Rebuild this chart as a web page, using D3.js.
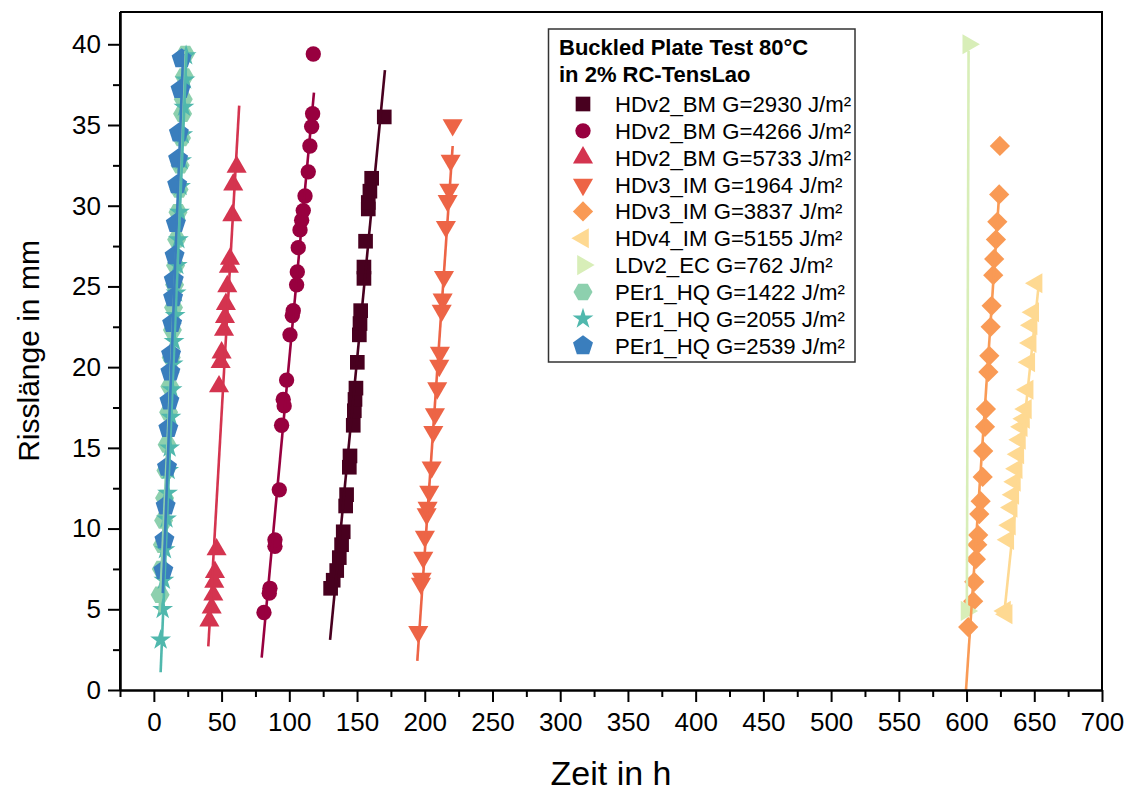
<!DOCTYPE html>
<html>
<head>
<meta charset="utf-8">
<script src="https://cdn.jsdelivr.net/npm/d3@7"></script>
<style>
body{margin:0;background:#fff}
svg text{font-family:Arial,"Liberation Sans",sans-serif;fill:#000}
</style>
</head>
<body>
<svg id="chart" width="1135" height="792"></svg>
<script>
// crack length (mm) over time (h), one [t, a] pair per measurement
const hdv2bm2930=[[130.5,6.3],[132.4,6.8],[135.0,7.4],[136.9,8.2],[138.6,9.0],[139.8,9.8],[141.6,11.4],[142.3,12.1],[144.3,13.8],[144.8,14.5],[147.2,16.4],[148.0,17.3],[148.5,18.0],[149.2,18.7],[150.2,20.3],[151.7,22.0],[152.2,22.7],[152.7,23.5],[155.1,25.5],[155.1,26.2],[156.3,27.8],[158.3,29.8],[158.3,30.2],[159.5,30.9],[160.8,31.7],[170.1,35.5]];
const hdv2bm4266=[[81.3,4.8],[85.2,6.0],[85.7,6.3],[89.4,8.9],[89.4,9.3],[92.6,12.4],[94.3,16.4],[95.5,18.0],[96.2,17.6],[98.0,19.2],[100.5,22.0],[102.2,23.2],[102.9,23.5],[105.4,25.1],[105.9,25.9],[106.6,27.4],[107.9,28.5],[109.1,29.1],[110.3,29.7],[111.6,30.6],[114.0,32.1],[115.2,33.7],[116.5,34.9],[117.2,35.7],[117.7,39.4]];
const hdv2bm5733=[[41.0,4.3],[42.7,5.1],[43.9,5.9],[44.6,6.7],[45.1,7.3],[46.3,8.7],[48.1,18.8],[49.3,20.3],[50.0,20.9],[51.8,22.3],[52.5,23.1],[53.2,23.9],[54.2,25.0],[55.4,26.2],[56.2,26.7],[57.9,29.4],[58.6,31.3],[61.1,32.4]];
const hdv3im1964=[[195.2,3.6],[197.2,6.6],[197.7,6.9],[198.9,8.2],[200.1,9.5],[201.4,10.9],[202.1,11.3],[203.3,12.3],[205.1,13.8],[206.3,16.0],[207.5,17.1],[209.2,18.7],[210.7,20.1],[211.2,20.9],[212.5,23.5],[213.2,24.2],[214.2,25.6],[215.6,28.7],[216.9,30.3],[218.1,31.0],[219.1,32.8],[220.6,35.0]];
const hdv3im3837=[[601.2,3.9],[604.9,5.5],[605.7,6.7],[606.9,8.1],[607.9,9.0],[608.6,9.6],[609.4,10.9],[610.4,11.7],[611.9,13.2],[612.3,14.8],[613.6,16.3],[614.3,17.4],[616.1,19.7],[616.8,20.7],[617.8,22.5],[618.5,23.8],[619.7,25.7],[620.4,26.7],[621.7,27.9],[622.7,29.0],[624.1,30.7],[624.6,33.7]];
const hdv4im5155=[[628.4,4.9],[629.6,4.7],[630.8,9.3],[632.0,10.2],[633.3,11.3],[634.5,12.1],[635.7,12.9],[637.0,13.7],[638.2,14.6],[639.4,15.5],[640.7,16.3],[642.4,16.8],[643.8,17.4],[645.1,18.6],[646.3,20.3],[647.3,21.5],[648.0,22.6],[649.2,23.4],[651.7,25.2]];
const ldv2ec762=[[600.0,4.9],[601.3,40.0]];
const per1hq1422=[[4.6,5.9],[5.5,7.5],[6.3,9.0],[7.2,10.5],[7.9,11.9],[8.9,13.6],[9.8,15.2],[10.9,17.2],[11.8,18.8],[12.8,20.6],[13.7,22.3],[14.5,23.7],[15.3,25.1],[16.0,26.3],[16.8,27.9],[17.8,29.6],[18.6,31.0],[19.4,32.5],[20.4,34.2],[21.2,35.7],[21.7,36.6],[22.5,38.0],[23.3,39.4]];
const per1hq2055=[[5.0,3.1],[6.5,5.0],[7.4,6.8],[8.2,8.7],[9.3,10.6],[10.1,12.2],[10.9,13.6],[11.6,15.0],[12.6,16.9],[13.4,18.6],[14.2,20.2],[14.9,21.6],[15.7,23.2],[16.4,24.6],[17.3,26.3],[18.1,27.9],[18.9,29.6],[19.7,31.2],[20.5,32.8],[21.3,34.4],[22.2,36.1],[23.0,37.8],[23.8,39.3]];
const per1hq2539=[[7.0,7.4],[7.8,9.3],[8.7,11.4],[9.7,13.8],[10.7,16.2],[11.5,17.9],[12.2,19.7],[12.7,20.8],[13.5,22.7],[14.2,24.3],[14.7,25.4],[15.3,26.9],[16.2,28.9],[17.2,31.3],[17.9,32.9],[18.5,34.5],[19.7,37.2],[20.5,39.1]];

// linear fit lines, [t0, a0, t1, a1]
const fits=[[130.1,3.1,170.6,38.4],[79.6,2.0,118.2,37.0],[40.2,2.7,63.0,36.2],[194.5,1.8,220.6,33.7],[599.6,0.0,624.3,31.0],[628.4,5.2,652.9,24.8],[600.2,4.9,601.5,39.6],[4.2,4.8,23.4,39.6],[5.0,1.1,24.2,39.6],[6.6,6.0,21.6,39.4]];

const legendLabels=["HDv2_BM G=2930 J/m²","HDv2_BM G=4266 J/m²","HDv2_BM G=5733 J/m²","HDv3_IM G=1964 J/m²","HDv3_IM G=3837 J/m²","HDv4_IM G=5155 J/m²","LDv2_EC G=762 J/m²","PEr1_HQ G=1422 J/m²","PEr1_HQ G=2055 J/m²","PEr1_HQ G=2539 J/m²"];
const xTicks=[0,50,100,150,200,250,300,350,400,450,500,550,600,650,700];
const yTicks=[0,5,10,15,20,25,30,35,40];

const series=[hdv2bm2930,hdv2bm4266,hdv2bm5733,hdv3im1964,hdv3im3837,hdv4im5155,ldv2ec762,per1hq1422,per1hq2055,per1hq2539];
const colors=["#48001f","#98003f","#d4344f","#ed6446","#f99a55","#fed992","#d8eeb8","#8dd0ae","#50b8ad","#3a7ebd"];

const poly=(n,r,rot)=>{
  const p=d3.range(n).map(i=>{const a=rot+i*2*Math.PI/n;return [r*Math.sin(a),-r*Math.cos(a)]});
  return "M"+p.join("L")+"Z";
};
const markers=[
  {d:d3.symbol(d3.symbolSquare,215)(),r:0},
  {d:d3.symbol(d3.symbolCircle,185)(),r:0},
  {d:d3.symbol(d3.symbolTriangle,175)(),r:0},
  {d:d3.symbol(d3.symbolTriangle,175)(),r:180},
  {d:d3.symbol(d3.symbolSquare,205)(),r:45},
  {d:d3.symbol(d3.symbolTriangle,175)(),r:-90},
  {d:d3.symbol(d3.symbolTriangle,175)(),r:90},
  {d:poly(6,9.5,Math.PI/6),r:0},
  {d:d3.symbol(d3.symbolStar,135)(),r:0},
  {d:poly(5,10.5,0),r:0}
];

const svg=d3.select("#chart");
const m={left:120,right:1102,top:12,bottom:690};
const x=d3.scaleLinear().domain([-25,700]).range([m.left,m.right]);
const y=d3.scaleLinear().domain([0,42]).range([m.bottom,m.top]);

const plot=svg.append("g");
series.forEach((pts,i)=>{
  plot.append("g").selectAll("path").data(pts).join("path")
    .attr("d",markers[i].d)
    .attr("transform",d=>`translate(${x(d[0])},${y(d[1])}) rotate(${markers[i].r})`)
    .attr("fill",colors[i]);
});
plot.append("g").selectAll("line").data(fits).join("line")
  .attr("x1",d=>x(d[0])).attr("y1",d=>y(d[1]))
  .attr("x2",d=>x(d[2])).attr("y2",d=>y(d[3]))
  .attr("stroke",(d,i)=>colors[i])
  .attr("stroke-width",2.6);

// axes: major ticks labelled, minor ticks half way between
const styleAxis=s=>{
  s.select(".domain").attr("stroke","#000").attr("stroke-width",2);
  s.selectAll(".tick line").attr("stroke","#000").attr("stroke-width",2);
  s.selectAll("text").attr("font-size",26).attr("font-family","Arial, 'Liberation Sans', sans-serif");
};
svg.append("g").attr("transform",`translate(0,${m.bottom})`)
  .call(d3.axisBottom(x).tickValues(xTicks.map(v=>v-25)).tickSize(7).tickSizeOuter(0).tickFormat(""))
  .call(styleAxis);
svg.append("g").attr("transform",`translate(0,${m.bottom})`)
  .call(d3.axisBottom(x).tickValues(xTicks).tickSize(12).tickSizeOuter(0).tickPadding(11))
  .call(styleAxis);
svg.append("g").attr("transform",`translate(${m.left},0)`)
  .call(d3.axisLeft(y).tickValues(yTicks.map(v=>v+2.5).filter(v=>v<42)).tickSize(7).tickSizeOuter(0).tickFormat(""))
  .call(styleAxis);
svg.append("g").attr("transform",`translate(${m.left},0)`)
  .call(d3.axisLeft(y).tickValues(yTicks).tickSize(12).tickSizeOuter(0).tickPadding(7))
  .call(styleAxis);

svg.append("path")
  .attr("d",`M${m.left},${m.top}H${m.right}V${m.bottom}`)
  .attr("fill","none").attr("stroke","#000").attr("stroke-width",2);
svg.append("line").attr("x1",m.left).attr("x2",m.left).attr("y1",m.top).attr("y2",m.bottom)
  .attr("stroke","#000").attr("stroke-width",2);

svg.append("text").attr("x",(m.left+m.right)/2).attr("y",785)
  .attr("text-anchor","middle").attr("font-size",34).text("Zeit in h");
svg.append("text").attr("transform",`translate(39,${(m.top+m.bottom)/2}) rotate(-90)`)
  .attr("text-anchor","middle").attr("font-size",30).text("Risslänge in mm");

// legend
const lg=svg.append("g");
lg.append("rect").attr("x",548.5).attr("y",29).attr("width",306.5).attr("height",333)
  .attr("fill","#fff").attr("stroke","#333").attr("stroke-width",1.5);
lg.append("text").attr("x",559).attr("y",55).attr("font-size",22).attr("font-weight","bold").text("Buckled Plate Test 80°C");
lg.append("text").attr("x",559).attr("y",82).attr("font-size",22).attr("font-weight","bold").text("in 2% RC-TensLao");
const rows=lg.selectAll(".row").data(legendLabels).join("g")
  .attr("transform",(d,i)=>`translate(583,${104+i*26.85})`);
rows.append("path").attr("d",(d,i)=>markers[i].d)
  .attr("transform",(d,i)=>`rotate(${markers[i].r})`)
  .attr("fill",(d,i)=>colors[i]);
rows.append("text").attr("x",32).attr("y",8).attr("font-size",22.2).text(d=>d);
</script>
</body>
</html>
